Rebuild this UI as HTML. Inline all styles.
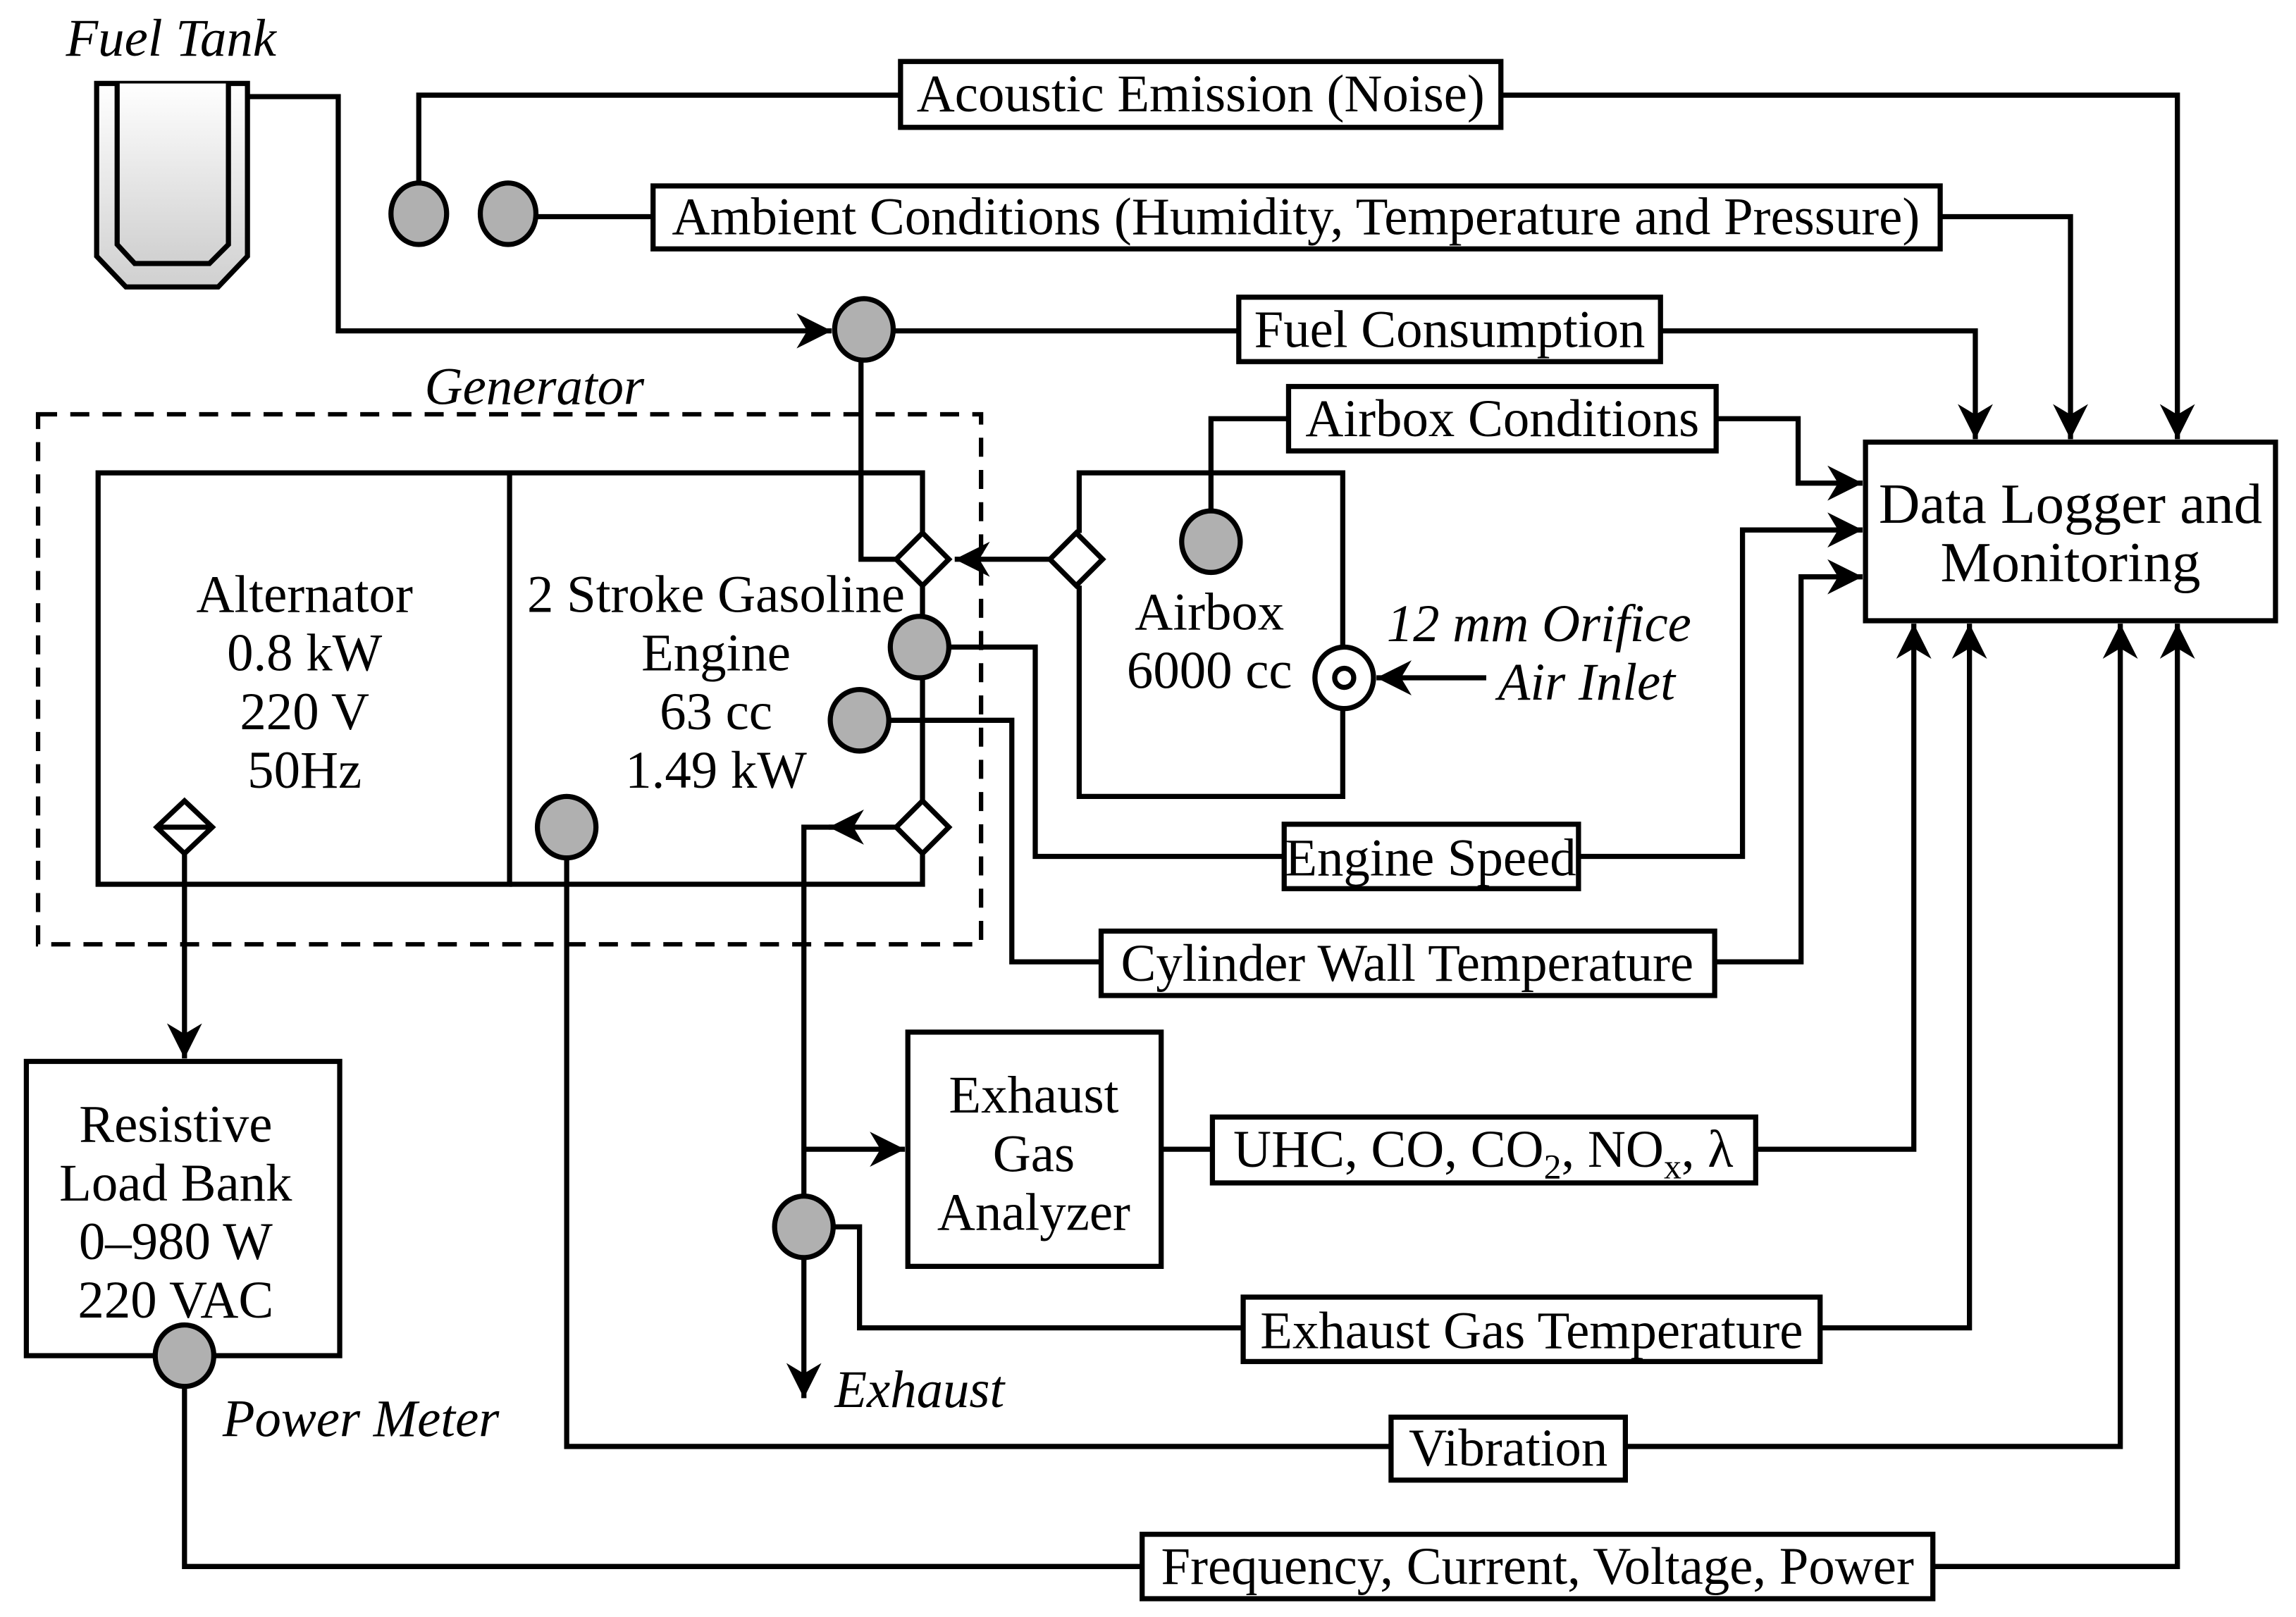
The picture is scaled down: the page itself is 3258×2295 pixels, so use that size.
<!DOCTYPE html>
<html><head><meta charset="utf-8"><style>
html,body{margin:0;padding:0;background:#fff;}
svg{display:block;}
text{font-family:"Liberation Serif",serif;font-size:36px;fill:#000;}
.i{font-style:italic;}
.big{font-size:39px;}
</style></head><body>
<svg width="3258" height="2295" viewBox="0 0 1568 1104.5" preserveAspectRatio="none" xmlns="http://www.w3.org/2000/svg">
<defs>
<linearGradient id="g" x1="0" y1="0" x2="0" y2="1"><stop offset="0" stop-color="#fff"/><stop offset="1" stop-color="#d0d0d0"/></linearGradient>
<marker id="a" viewBox="0 0 10 10" refX="10" refY="5" markerWidth="26" markerHeight="24" markerUnits="userSpaceOnUse" orient="auto"><path d="M0,0 L10,5 L0,10 L3,5 Z" fill="#000"/></marker>
</defs>
<g fill="none" stroke="#000" stroke-width="3.5">
<path d="M66,57 L169,57 L169,175 L149,196 L86,196 L66,175 Z" fill="url(#g)"/>
<path d="M80,57 L80,167 L92,180 L143,180 L156,167 L156,57" fill="url(#g)"/>
<path d="M169,66 H231 V226 H568" marker-end="url(#a)"/>
<path d="M610,226 H846"/>
<path d="M1134,226 H1349 V300" marker-end="url(#a)"/>
<path d="M286,126 V65 H615"/>
<path d="M1025,65 H1487 V300" marker-end="url(#a)"/>
<path d="M367,148 H446"/>
<path d="M1325,148 H1414 V300" marker-end="url(#a)"/>
<rect x="26" y="283" width="644" height="362" stroke-dasharray="13,9" stroke-width="3"/>
<rect x="67" y="323" width="281" height="281"/>
<path d="M348,323 H630 V364 M630,400 V422 M630,462 V547 M630,583 V604 H348"/>
<path d="M588,246 V382 H612"/>
<path d="M737,364 V323 H917 V442 M917,484 V544 H737 V400"/>
<path d="M717,382 H652" marker-end="url(#a)"/>
<path d="M1015,463 H940" marker-end="url(#a)"/>
<path d="M827,350 V286 H880"/>
<path d="M1172,286 H1228 V330 H1272" marker-end="url(#a)"/>
<path d="M648,442 H707 V585 H877"/>
<path d="M1078,585 H1190 V362 H1272" marker-end="url(#a)"/>
<path d="M607,492 H691 V657 H752"/>
<path d="M1171,657 H1230 V394 H1272" marker-end="url(#a)"/>
<path d="M387,585 V988 H950"/>
<path d="M1110,988 H1448 V426" marker-end="url(#a)"/>
<path d="M612,565 H566" marker-end="url(#a)"/>
<path d="M570,565 H549 V818 M549,858 V955" marker-end="url(#a)"/>
<path d="M549,785 H618" marker-end="url(#a)"/>
<path d="M569,838 H587 V907 H849"/>
<path d="M1243,907 H1345 V426" marker-end="url(#a)"/>
<path d="M793,785 H828"/>
<path d="M1199,785 H1307 V426" marker-end="url(#a)"/>
<path d="M126,583 V723" marker-end="url(#a)"/>
<path d="M126,946 V1070 H780"/>
<path d="M1320,1070 H1487 V426" marker-end="url(#a)"/>
<rect x="1274" y="302" width="280" height="122" fill="#fff"/>
<rect x="615" y="42" width="410" height="45" fill="#fff"/>
<rect x="446" y="127" width="879" height="43" fill="#fff"/>
<rect x="846" y="203" width="288" height="44" fill="#fff"/>
<rect x="880" y="264" width="292" height="44" fill="#fff"/>
<rect x="877" y="563" width="201" height="44" fill="#fff"/>
<rect x="752" y="636" width="419" height="44" fill="#fff"/>
<rect x="620" y="705" width="173" height="160" fill="#fff"/>
<rect x="828" y="763" width="371" height="45" fill="#fff"/>
<rect x="849" y="886" width="394" height="44" fill="#fff"/>
<rect x="950" y="968" width="160" height="43" fill="#fff"/>
<rect x="780" y="1048" width="540" height="44" fill="#fff"/>
<rect x="18" y="725" width="214" height="201" fill="#fff"/>
<path d="M630,364 L648,382 L630,400 L612,382 Z" fill="#fff"/>
<path d="M735,364 L753,382 L735,400 L717,382 Z" fill="#fff"/>
<path d="M630,547 L648,565 L630,583 L612,565 Z" fill="#fff"/>
<path d="M126,547 L145,565 L126,583 L107,565 Z M107,565 H145" fill="#fff"/>
<g fill="#b0b0b0">
<ellipse cx="286" cy="146" rx="19" ry="21"/>
<ellipse cx="347" cy="146" rx="19" ry="21"/>
<ellipse cx="590" cy="225" rx="20" ry="21"/>
<ellipse cx="827" cy="370" rx="20" ry="21"/>
<ellipse cx="628" cy="442" rx="20" ry="21"/>
<ellipse cx="587" cy="492" rx="20" ry="21"/>
<ellipse cx="387" cy="565" rx="20" ry="21"/>
<ellipse cx="549" cy="838" rx="20" ry="21"/>
<ellipse cx="126" cy="926" rx="20" ry="21"/>
</g>
<ellipse cx="918" cy="463" rx="20" ry="21" fill="#fff"/>
<circle cx="918" cy="463" r="6.5" fill="#fff"/>
</g>
<text class="i" x="45" y="38">Fuel Tank</text>
<text class="i" x="290" y="276">Generator</text>
<text x="820" y="76" text-anchor="middle">Acoustic Emission (Noise)</text>
<text x="885" y="160" text-anchor="middle">Ambient Conditions (Humidity, Temperature and Pressure)</text>
<text x="990" y="237" text-anchor="middle">Fuel Consumption</text>
<text x="1026" y="298" text-anchor="middle">Airbox Conditions</text>
<text class="big" x="1414" y="357" text-anchor="middle">Data Logger and</text>
<text class="big" x="1414" y="397" text-anchor="middle">Monitoring</text>
<text x="208" y="418" text-anchor="middle">Alternator</text>
<text x="208" y="458" text-anchor="middle">0.8 kW</text>
<text x="208" y="498" text-anchor="middle">220 V</text>
<text x="208" y="538" text-anchor="middle">50Hz</text>
<text x="489" y="418" text-anchor="middle">2 Stroke Gasoline</text>
<text x="489" y="458" text-anchor="middle">Engine</text>
<text x="489" y="498" text-anchor="middle">63 cc</text>
<text x="489" y="538" text-anchor="middle">1.49 kW</text>
<text x="826" y="430" text-anchor="middle">Airbox</text>
<text x="826" y="470" text-anchor="middle">6000 cc</text>
<text class="i" x="1155" y="438" text-anchor="end">12 mm Orifice</text>
<text class="i" x="1144" y="478" text-anchor="end">Air Inlet</text>
<text x="977" y="598" text-anchor="middle">Engine Speed</text>
<text x="961" y="670" text-anchor="middle">Cylinder Wall Temperature</text>
<text x="706" y="760" text-anchor="middle">Exhaust</text>
<text x="706" y="800" text-anchor="middle">Gas</text>
<text x="706" y="840" text-anchor="middle">Analyzer</text>
<text x="1013" y="797" text-anchor="middle">UHC, CO, CO<tspan font-size="24" dy="8">2</tspan><tspan dy="-8">, NO</tspan><tspan font-size="24" dy="8">x</tspan><tspan dy="-8">, λ</tspan></text>
<text x="1046" y="921" text-anchor="middle">Exhaust Gas Temperature</text>
<text x="1030" y="1001" text-anchor="middle">Vibration</text>
<text x="1050" y="1082" text-anchor="middle">Frequency, Current, Voltage, Power</text>
<text class="i" x="570" y="961">Exhaust</text>
<text x="120" y="780" text-anchor="middle">Resistive</text>
<text x="120" y="820" text-anchor="middle">Load Bank</text>
<text x="120" y="860" text-anchor="middle">0–980 W</text>
<text x="120" y="900" text-anchor="middle">220 VAC</text>
<text class="i" x="152" y="981">Power Meter</text>
</svg>
</body></html>
